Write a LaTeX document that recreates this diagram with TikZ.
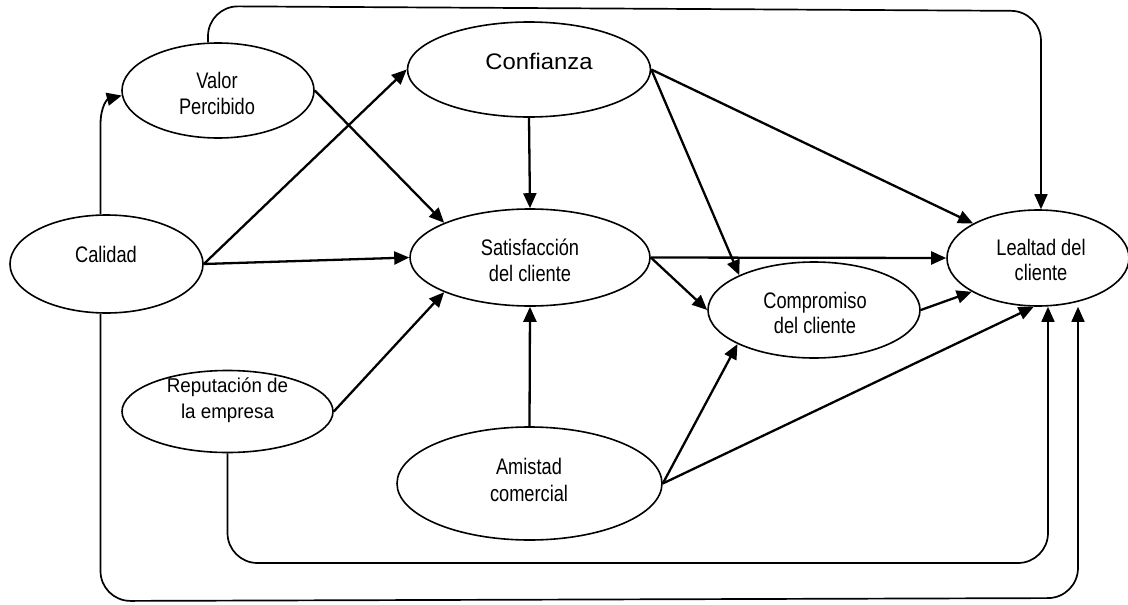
\documentclass[tikz,border=0pt]{standalone}
\usepackage{fontspec}
\setmainfont{Liberation Sans}
\newfontfamily\nf{Liberation Sans}[FakeStretch=0.81]
\newfontfamily\cf{Liberation Sans}[FakeStretch=1.06]
\newfontfamily\rf{Liberation Sans}[FakeStretch=0.94]
\usetikzlibrary{arrows.meta,shapes.geometric}
\tikzset{
  ell/.style={draw, ellipse, line width=1.6pt, inner sep=0pt},
  lbl/.style={align=center, inner sep=0pt, font=\nf\fontsize{22.5}{26}\selectfont},
  arr/.style={line width=2.3pt, -{Triangle[length=15pt,width=13pt]}},
  loopline/.style={line width=1.7pt, rounded corners=30pt, -{Triangle[length=15pt,width=13pt]}}
}
\begin{document}
\begin{tikzpicture}[x=1pt,y=-1pt]
\useasboundingbox (0,0) rectangle (1128,605);
% ellipses
\node[ell, minimum width=192pt, minimum height=95pt] (vp) at (218,90.5) {};
\node[ell, minimum width=243pt, minimum height=95pt] (conf) at (529,69.5) {};
\node[ell, minimum width=193pt, minimum height=98pt] (cal) at (106.5,264) {};
\node[ell, minimum width=240pt, minimum height=97pt] (sat) at (530,257.5) {};
\node[ell, minimum width=182pt, minimum height=96pt] (leal) at (1038,258) {};
\node[ell, minimum width=212pt, minimum height=96pt] (comp) at (814,310) {};
\node[ell, minimum width=211pt, minimum height=82pt] (rep) at (227.5,411.5) {};
\node[ell, minimum width=265pt, minimum height=113pt] (amis) at (529.5,483.5) {};
% labels
\node[lbl] (tvp) at (217,93.8) {Valor\\Percibido};
\node[lbl, font=\cf\fontsize{22.5}{26}\selectfont] (tconf) at (539,61.8) {Confianza};
\node[lbl] (tcal) at (106,254.5) {Calidad};
\node[lbl] (tsat) at (530,260.8) {Satisfacción\\del cliente};
\node[lbl, font=\nf\fontsize{22.5}{25}\selectfont] (tleal) at (1041,260.3) {Lealtad del\\cliente};
\node[lbl, font=\nf\fontsize{22.5}{25}\selectfont] (tcomp) at (815,312.6) {Compromiso\\del cliente};
\node[lbl, font=\rf\fontsize{20}{26.5}\selectfont] (trep) at (227.5,400) {Reputación de\\la empresa};
\node[lbl, font=\nf\fontsize{22.5}{27}\selectfont] (tamis) at (529,480.3) {Amistad\\comercial};
% straight arrows
\draw[arr] (cal.east) -- (conf.west);
\draw[arr] (cal.east) -- (sat.west);
\draw[arr] (vp.east) -- (sat.158);
\draw[arr] (conf.south) -- (sat.north);
\draw[arr] (conf.east) -- (leal.152);
\draw[arr] (conf.east) -- (comp.155);
\draw[arr] (sat.east) -- (leal.west);
\draw[arr] (sat.east) -- (comp.west);
\draw[arr] (comp.east) -- (leal.207);
\draw[arr] (rep.east) -- (sat.202);
\draw[arr] (amis.north) -- (sat.south);
\draw[arr] (amis.east) -- (comp.204);
\draw[arr] (amis.east) -- (leal.265);
% routed connectors
\draw[loopline] ([xshift=-10pt]vp.north) -- ++(0,-36) -- (1041,11) -- (1041,0 |- leal.north);
\draw[line width=1.8pt, -{Triangle[length=15pt,width=13pt]}] ([xshift=-6pt]cal.north) -- (100.5,125) .. controls (100.5,105) and (108,99) .. (vp.183);
\draw[loopline] ([xshift=-6pt]cal.south) -- (100.5,601) -- (1078,598) -- (1078,0 |- leal.south);
\draw[loopline] (rep.south) -- (227.5,563) -- (1048,563) -- (1048,0 |- leal.south);
\end{tikzpicture}
\end{document}
